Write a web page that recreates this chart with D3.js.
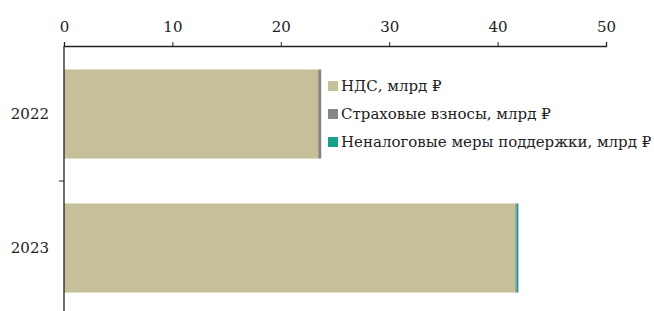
<!DOCTYPE html>
<html>
<head>
<meta charset="utf-8">
<script src="https://cdn.jsdelivr.net/npm/d3@7"></script>
<style>
  body { margin: 0; background: #fff; }
  text { font-family: "DejaVu Serif", serif; fill: #222; }
</style>
</head>
<body>
<div id="chart"></div>
<script>
// data
const years = ["2022", "2023"];
const series = ["НДС, млрд ₽", "Страховые взносы, млрд ₽", "Неналоговые меры поддержки, млрд ₽"];
const vat = [23.45, 41.63];
const insurance = [0.28, 0.13];
const nonTax = [0.0, 0.16];
const xTicks = [0, 10, 20, 30, 40, 50];
const colors = ["#c5bf9a", "#868686", "#16a08a"];

const width = 654;
const height = 311;

const svg = d3.select("#chart")
    .append("svg")
    .attr("width", width)
    .attr("height", height);

const x = d3.scaleLinear()
    .domain([0, 50])
    .range([64, 606]);

const y = d3.scaleBand()
    .domain(years)
    .range([47, 315])
    .paddingInner(0.335)
    .paddingOuter(0.1675);

// stack the three series per year
const rows = years.map((yr, i) => ({ year: yr, s0: vat[i], s1: insurance[i], s2: nonTax[i] }));
const stacked = d3.stack().keys(["s0", "s1", "s2"])(rows);

svg.append("g")
    .selectAll("g")
    .data(stacked)
    .enter().append("g")
    .attr("fill", (d, i) => colors[i])
    .selectAll("rect")
    .data(d => d)
    .enter().append("rect")
    .attr("x", d => x(d[0]))
    .attr("y", d => y(d.data.year))
    .attr("width", d => x(d[1]) - x(d[0]))
    .attr("height", y.bandwidth());

// top axis
const xAxis = svg.append("g")
    .attr("transform", "translate(0,46)")
    .call(d3.axisTop(x).tickValues(xTicks).tickSize(4).tickPadding(10));
xAxis.select(".domain").attr("stroke", "#222").attr("stroke-width", 1.3);
xAxis.selectAll(".tick line").attr("stroke", "#222");
xAxis.selectAll("text").style("font-size", "15px").attr("fill", "#222");

// left axis: plain line, ticks at band boundaries, labels centred on bands
const yAxis = svg.append("g");
yAxis.append("line")
    .attr("x1", x(0)).attr("x2", x(0))
    .attr("y1", 46).attr("y2", height)
    .attr("stroke", "#222").attr("stroke-width", 1.3);
yAxis.selectAll(".sep")
    .data(years.slice(1))
    .enter().append("line")
    .attr("x1", x(0) - 5).attr("x2", x(0))
    .attr("y1", d => y(d) - y.step() * y.paddingInner() / 2)
    .attr("y2", d => y(d) - y.step() * y.paddingInner() / 2)
    .attr("stroke", "#222");
yAxis.selectAll(".ylab")
    .data(years)
    .enter().append("text")
    .attr("x", x(0) - 15)
    .attr("y", d => y(d) + y.bandwidth() / 2)
    .attr("dy", "0.35em")
    .attr("text-anchor", "end")
    .style("font-size", "15px")
    .text(d => d);

// legend
const legend = svg.append("g")
    .attr("transform", "translate(328,81)")
    .selectAll("g")
    .data(series)
    .enter().append("g")
    .attr("transform", (d, i) => `translate(0, ${i * 28})`);

legend.append("rect")
    .attr("width", 10)
    .attr("height", 10)
    .attr("fill", (d, i) => colors[i]);

legend.append("text")
    .attr("x", 13)
    .attr("y", 5)
    .attr("dy", "0.35em")
    .style("font-size", "15px")
    .text(d => d);
</script>
</body>
</html>
